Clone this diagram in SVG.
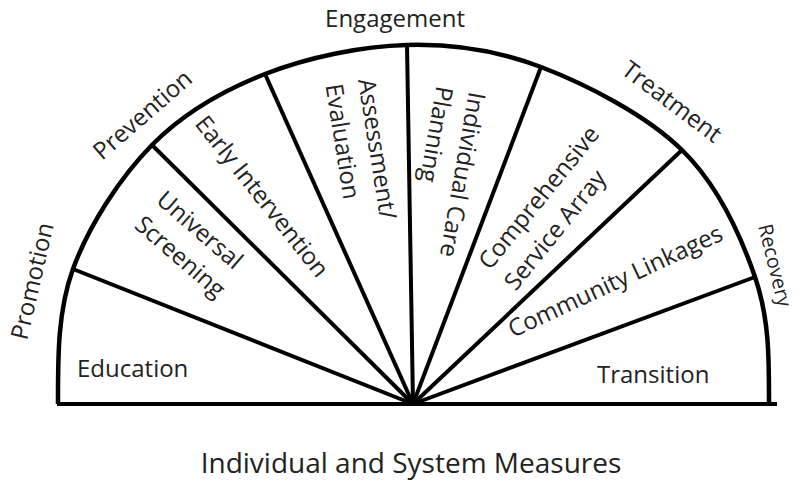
<svg xmlns="http://www.w3.org/2000/svg" width="802" height="482" viewBox="0 0 802 482">
<style>
.ln{stroke:#000;stroke-width:4;fill:none;stroke-linecap:butt}
.arc{stroke:#000;stroke-width:4.5;fill:none}
.t{font-family:"Open Sans","Noto Sans","Liberation Sans",sans-serif;font-size:24px;fill:#222}
.title{font-family:"Open Sans","Noto Sans","Liberation Sans",sans-serif;font-size:28px;fill:#222}
</style>
<rect width="802" height="482" fill="#fff"/>
<g id="connectors">
<path class="arc" d="M58,404 C58,359 57.3,312.2 73,269 C88.7,225.8 120,177.5 152,145 C184,112.5 222.5,90.7 265,74 C307.5,57.3 361,46.2 407,45 C453,43.8 495.2,49.5 541,67 C586.8,84.5 646.3,115 682,150 C717.7,185 740.5,234.7 755,277 C769.5,319.3 769,359 769,404"/>
<line class="ln" x1="57" y1="404" x2="777" y2="404"/>
<line class="ln" x1="73" y1="269" x2="413" y2="404"/>
<line class="ln" x1="152" y1="145" x2="413" y2="404"/>
<line class="ln" x1="265" y1="74" x2="413" y2="404"/>
<line class="ln" x1="407" y1="45" x2="413" y2="404"/>
<line class="ln" x1="541" y1="67" x2="413" y2="404"/>
<line class="ln" x1="682" y1="150" x2="413" y2="404"/>
<line class="ln" x1="755" y1="277" x2="413" y2="404"/>
</g>
<g id="promotion"><text class="t" transform="translate(27,341) rotate(-77)">Promotion</text></g>
<g id="prevention"><text class="t" transform="translate(102,161) rotate(-41)">Prevention</text></g>
<g id="engagement"><text class="t" x="395" y="27" text-anchor="middle">Engagement</text></g>
<g id="treatment"><text class="t" transform="translate(620,73) rotate(37)">Treatment</text></g>
<g id="recovery"><text class="t" style="font-size:20px" transform="translate(758,226) rotate(76)">Recovery</text></g>
<g id="education"><text class="t" x="77" y="377">Education</text></g>
<g id="universal-screening"><text class="t" transform="translate(155,202) rotate(41)"><tspan x="0" y="0">Universal</tspan><tspan x="0" y="33">Screening</tspan></text></g>
<g id="early-intervention"><text class="t" transform="translate(194,124) rotate(51.5)">Early Intervention</text></g>
<g id="assessment-evaluation"><text class="t" transform="translate(358,80) rotate(81)"><tspan x="0" y="0">Assessment/</tspan><tspan x="0" y="33">Evaluation</tspan></text></g>
<g id="individual-care-planning"><text class="t" transform="translate(469,91) rotate(100)"><tspan x="0" y="0">Individual Care</tspan><tspan x="0" y="33">Planning</tspan></text></g>
<g id="comprehensive-service-array"><text class="t" transform="translate(490,271) rotate(-51)"><tspan x="0" y="0">Comprehensive</tspan><tspan x="0" y="33">Service Array</tspan></text></g>
<g id="community-linkages"><text class="t" transform="translate(513,338) rotate(-25)">Community Linkages</text></g>
<g id="transition"><text class="t" x="597" y="383">Transition</text></g>
<g id="measures"><text class="title" x="411" y="473" text-anchor="middle">Individual and System Measures</text></g>
</svg>
